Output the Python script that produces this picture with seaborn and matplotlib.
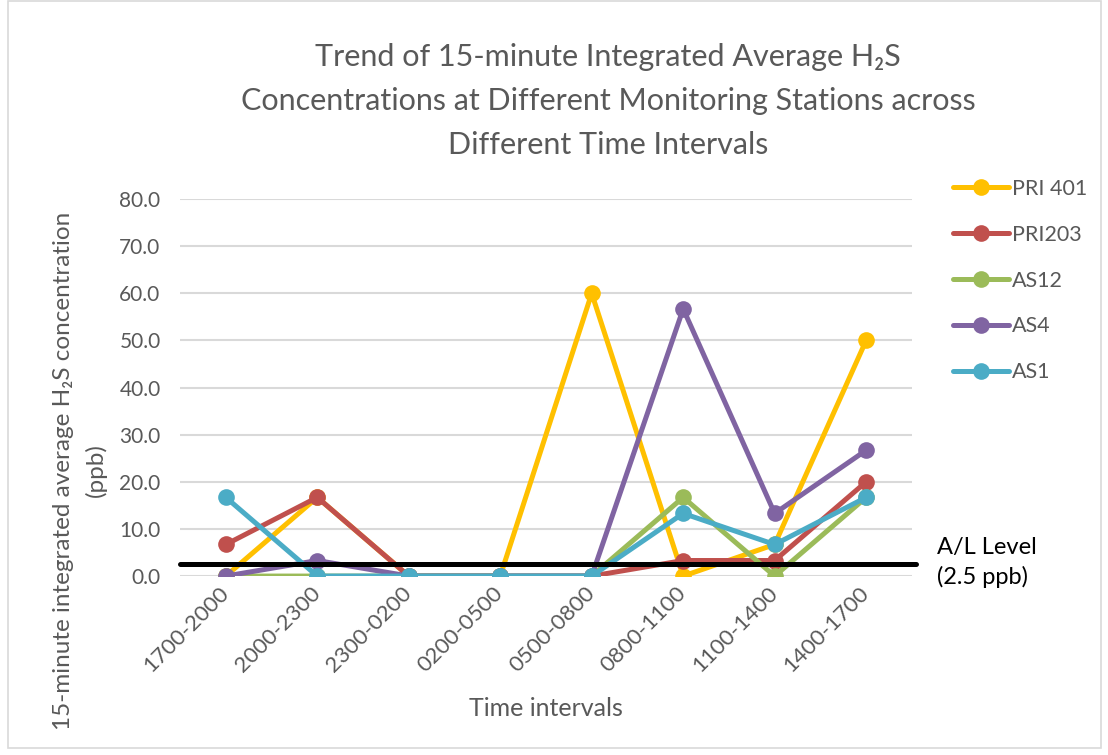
import matplotlib
matplotlib.use("Agg")
import matplotlib.pyplot as plt
import pandas as pd
import seaborn as sns
from matplotlib.patches import Rectangle

# Data
intervals = ["1700-2000", "2000-2300", "2300-0200", "0200-0500",
             "0500-0800", "0800-1100", "1100-1400", "1400-1700"]
pri401 = [0.0, 16.7, 0.0, 0.0, 60.0, 0.0, 6.7, 50.0]
pri203 = [6.7, 16.7, 0.0, 0.0, 0.0, 3.3, 3.3, 20.0]
as12 = [0.0, 0.0, 0.0, 0.0, 0.0, 16.7, 0.0, 16.7]
as4 = [0.0, 3.3, 0.0, 0.0, 0.0, 56.7, 13.3, 26.7]
as1 = [16.7, 0.0, 0.0, 0.0, 0.0, 13.3, 6.7, 16.7]
stations = ["PRI 401", "PRI203", "AS12", "AS4", "AS1"]
al_level = 2.5
colors = ["#FFC000", "#C0504D", "#9BBB59", "#8064A2", "#4BACC6"]

sns.set_theme(style="white")
plt.rcParams["font.family"] = ["Lato", "DejaVu Sans"]
text_col = "#595959"

df = pd.DataFrame({"Interval": intervals, "PRI 401": pri401, "PRI203": pri203,
                   "AS12": as12, "AS4": as4, "AS1": as1})
long_df = df.melt(id_vars="Interval", var_name="Station", value_name="Conc")

fig = plt.figure(figsize=(11.08, 7.55), dpi=100)
ax = fig.add_axes([0.1625, 0.237, 0.6605, 0.4993])

sns.lineplot(data=long_df, x="Interval", y="Conc", hue="Station",
             hue_order=stations, palette=colors, marker="o", markersize=12,
             markeredgewidth=0, linewidth=3.6, sort=False, ax=ax, legend=True)

# A/L level line
ax.axhline(al_level, xmin=0, xmax=1.006, color="black", linewidth=3.6,
           clip_on=False, zorder=5)
ax.text(1.034, 0.036, "A/L Level\n(2.5 ppb)", transform=ax.transAxes,
        fontsize=17, color="black", va="center", ha="left", linespacing=1.45)

ax.set_ylim(0, 80)
ax.set_xlim(-0.5, len(intervals) - 0.5)
ax.set_yticks(range(0, 81, 10))
ax.set_yticklabels([f"{v:.1f}" for v in range(0, 81, 10)])
ax.yaxis.grid(True, color="#D9D9D9", linewidth=1.5)
ax.set_axisbelow(True)
for s in ax.spines.values():
    s.set_visible(False)
ax.tick_params(axis="y", length=0, labelsize=15, labelcolor=text_col, pad=14)
ax.tick_params(axis="x", length=0, labelsize=16, labelcolor=text_col, pad=10)
plt.setp(ax.get_xticklabels(), rotation=45, ha="right", va="center",
         rotation_mode="anchor")

ax.set_xlabel("Time intervals", fontsize=18, color=text_col)
ax.xaxis.set_label_coords(0.5, -0.32)
ax.set_ylabel("15-minute integrated average H\u2082S concentration\n(ppb)",
              fontsize=17.5, color=text_col, linespacing=1.6)
ax.yaxis.set_label_coords(-0.1, 0.28)

leg = ax.legend(loc="upper left", bbox_to_anchor=(953 / 1108, 1 - 179 / 755),
                bbox_transform=fig.transFigure, frameon=False, fontsize=15.5,
                handlelength=2.6, labelspacing=1.2, handletextpad=0.15,
                borderpad=0, borderaxespad=0)
for t in leg.get_texts():
    t.set_color(text_col)

fig.text(0.549, 1 - 101 / 755,
         "Trend of 15-minute Integrated Average H\u2082S\n"
         "Concentrations at Different Monitoring Stations across\n"
         "Different Time Intervals",
         ha="center", va="center", multialignment="center",
         fontsize=22, color=text_col, linespacing=1.68)

fig.patches.append(Rectangle((0.007, 0.009), 0.987, 0.99, transform=fig.transFigure,
                             fill=False, edgecolor="#D9D9D9", linewidth=1.2))

fig.savefig("out.png", dpi=100)
